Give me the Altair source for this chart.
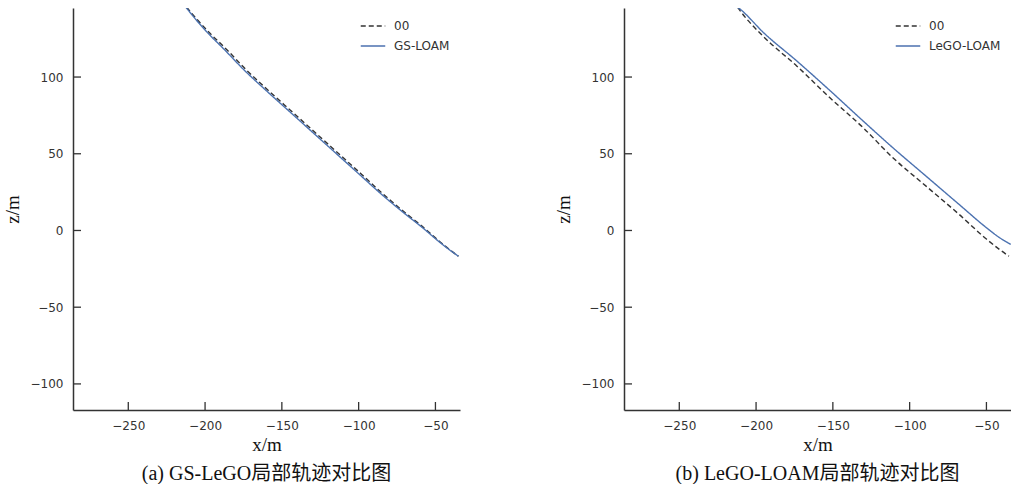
import altair as alt
import pandas as pd

# ---------------- data ----------------
# Panel (a): GS-LOAM vs ground truth 00
a_gs_x = [-212.5, -206, -198, -188, -175, -160, -145, -130, -115, -100, -85, -70, -58, -48, -41, -35]
a_gs_z = [145.5, 137.5, 128.5, 118.5, 105, 91, 77.5, 64, 50.5, 37, 23.5, 11, 1.5, -7, -12.5, -16.8]
a_gt_x = [-212.0, -205.2, -196.8, -186.5, -173.5, -158.5, -143.5, -128.5, -113.5, -98.5, -83.8, -69.0, -57.2, -47.5, -40.7, -35]
a_gt_z = [145.5, 137.5, 128.5, 118.5, 105, 91, 77.5, 64, 50.5, 37, 23.5, 11, 1.5, -7, -12.5, -16.8]

# Panel (b): LeGO-LOAM vs ground truth 00
b_lego_x = [-212.0, -210.2, -195.1, -173.4, -151.9, -131.0, -110.9, -89.3, -67.7, -50.0, -42.0, -34.2]
b_lego_z = [145.5, 144.1, 128.9, 110.4, 91.2, 72.0, 53.9, 35.4, 16.9, 1.8, -4.3, -9.1]
b_gt_x = [-212.0, -210.2, -195.1, -173.4, -151.9, -130.3, -110.9, -89.3, -67.7, -50.0, -42.0, -35.3]
b_gt_z = [145.5, 143.0, 126.3, 107.1, 86.5, 67.0, 47.4, 28.9, 10.4, -5.6, -12.0, -16.8]

x_ticks = [-250, -200, -150, -100, -50]
z_ticks = [-100, -50, 0, 50, 100]
x_domain = [-286, -34]
z_domain = [-117, 145]

series_a = ["00", "GS-LOAM"]
series_b = ["00", "LeGO-LOAM"]
caption_a = "(a) GS-LeGO局部轨迹对比图"
caption_b = "(b) LeGO-LOAM局部轨迹对比图"

W, H = 387, 402
DARK = "#333333"
BLUE = "#4c72b0"


def frame(names, gt_x, gt_z, est_x, est_z):
    rows = []
    for i, (x, z) in enumerate(zip(gt_x, gt_z)):
        rows.append({"x": x, "z": z, "series": names[0], "order": i})
    for i, (x, z) in enumerate(zip(est_x, est_z)):
        rows.append({"x": x, "z": z, "series": names[1], "order": i})
    return pd.DataFrame(rows)


def panel(df, names, caption, legend_x):
    xs = alt.Scale(domain=x_domain, nice=False, zero=False)
    zs = alt.Scale(domain=z_domain, nice=False, zero=False)
    x_axis = alt.Axis(values=x_ticks, tickSize=0, grid=False, title="x/m",
                      labelPadding=10, titlePadding=4)
    z_axis = alt.Axis(values=z_ticks, tickSize=0, grid=False, title="z/m",
                      labelPadding=10, titlePadding=8)
    leg = alt.Legend(
        title=None, orient="none", legendX=legend_x, legendY=5,
        symbolType="stroke", symbolSize=600, symbolStrokeWidth=1.5,
        labelFont="DejaVu Sans", labelFontSize=12, labelColor=DARK,
        labelOffset=8, rowPadding=1,
    )
    lines = alt.Chart(df).mark_line(strokeWidth=1.4, clip=True, interpolate="monotone").encode(
        x=alt.X("x:Q", scale=xs, axis=x_axis),
        y=alt.Y("z:Q", scale=zs, axis=z_axis),
        color=alt.Color("series:N", scale=alt.Scale(domain=names, range=[DARK, BLUE]), legend=leg),
        strokeDash=alt.StrokeDash("series:N", scale=alt.Scale(domain=names, range=[[5, 3], [1, 0]]), legend=leg),
        order="order:Q",
    )
    xt = alt.Chart(pd.DataFrame({"x": x_ticks})).mark_rule(color=DARK, strokeWidth=1.3).encode(
        x=alt.X("x:Q", scale=xs, axis=x_axis),
        y=alt.value(H), y2=alt.value(H - 8),
    )
    zt = alt.Chart(pd.DataFrame({"z": z_ticks})).mark_rule(color=DARK, strokeWidth=1.3).encode(
        y=alt.Y("z:Q", scale=zs, axis=z_axis),
        x=alt.value(0), x2=alt.value(8),
    )
    return alt.layer(lines, xt, zt).properties(
        width=W, height=H,
        title=alt.TitleParams(caption, orient="bottom", font="Liberation Serif, Noto Sans CJK SC",
                              fontSize=20, fontWeight="normal", color="#111", offset=10),
    )


pa = panel(frame(series_a, a_gt_x, a_gt_z, a_gs_x, a_gs_z), series_a, caption_a, 287)
pb = panel(frame(series_b, b_gt_x, b_gt_z, b_lego_x, b_lego_z), series_b, caption_b, 271)

chart = alt.hconcat(pa, pb, spacing=94).resolve_scale(
    color="independent", strokeDash="independent", x="independent", y="independent"
).resolve_legend(color="independent", strokeDash="independent").properties(
    padding={"left": 3, "top": 8, "right": 0, "bottom": 0}
).configure_view(stroke=None).configure_axis(
    domainColor=DARK, domainWidth=1.5,
    labelFont="DejaVu Sans", labelFontSize=12, labelColor=DARK,
    titleFont="Liberation Serif", titleFontSize=19, titleFontWeight="normal", titleColor="#111",
)

chart.save("out.html", embed_options={"renderer": "svg", "actions": False})
